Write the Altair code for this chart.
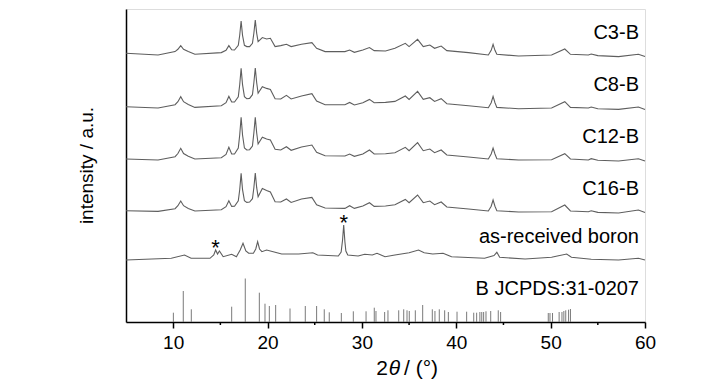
import altair as alt
import pandas as pd

# ---------------- data ----------------
# common 2-theta grid of the four Cn-B samples
GRID = [5.0, 8.4, 10.2, 10.5, 10.8, 11.1, 11.6, 12.3, 15.1, 15.6,
        15.9, 16.2, 16.5, 16.9, 17.05, 17.2, 17.35, 17.55, 17.8, 18.1,
        18.4, 18.55, 18.7, 18.85, 19.0, 19.45, 19.9, 20.3, 20.8, 21.4,
        22.0, 22.5, 23.6, 24.7, 25.2, 26.1, 28.2, 28.7, 29.2, 30.1,
        30.8, 31.3, 32.5, 33.5, 34.6, 35.0, 35.9, 36.5, 37.2, 37.7,
        38.4, 39.0, 41.3, 43.4, 43.7, 43.9, 44.1, 44.3, 46.6, 50.1,
        51.5, 52.1, 54.0, 54.3, 55.0, 57.2, 59.3, 60.0]

C3_B = [0, -1.7, 1.7, 4, 7.7, 4, 1.7, -1, 0.7, 3,
        7.7, 3.5, 3.3, 8, 18, 32.3, 18, 8, 6.7, 6.7,
        10, 20, 33.3, 20, 11.7, 15.7, 14.3, 15, 6.7, 7.7,
        9, 6.7, 9, 10.7, 5, 1.7, 1.7, 3.3, 1, 3.3,
        5.7, 2.7, 2.3, 5, 10, 6.7, 14, 6.7, 8.3, 5,
        7.3, 2.7, 0.7, -1.7, 3, 9, 3, -1, -2.7, -1.7,
        4.3, -1, -1.7, -0.7, -2.3, -3.3, -1, -3.3]

C8_B = [0, -1.3, 2, 5, 10, 5, 2.3, -0.7, 1, 4,
        10.3, 4.7, 4.7, 10, 22, 38.3, 22, 10, 8, 8.3,
        12, 24, 38.7, 24, 13.5, 20, 18.3, 17.3, 8, 7.7,
        11.3, 7.7, 10.7, 13, 5.7, 2, 2, 4.3, 1.7, 4,
        7.3, 4, 4.3, 5.3, 10.7, 7.3, 15.3, 7.3, 9, 5.3,
        8, 3, 1, -1, 4, 10.3, 4, -0.7, -2, -1.3,
        5, -0.7, -1.3, -0.3, -2, -2.7, -0.3, -2.7]

C12_B = [0, -1, 2.3, 5.5, 10.7, 5.5, 2.7, 0, 1.3, 4.5,
         11.7, 5, 5, 11, 24, 41.7, 24, 11, 9, 9.3,
         13, 26, 41.7, 26, 15, 21.7, 20, 19, 9.7, 9,
         12.3, 8.7, 12, 14, 6.7, 3.3, 3, 5, 2.7, 5,
         9, 5, 5.3, 6.3, 11.7, 8.3, 16.3, 8.3, 10, 6.3,
         9, 4, 2, 0, 5, 11, 5, 0.3, -1, -0.7,
         5.3, 0, -1, 0.3, -1.3, -2, 0.3, -2]

C16_B = [0, -0.7, 2, 5, 9.7, 5, 2.3, -0.3, 1, 4,
         10, 4.3, 4.5, 10, 21, 37.3, 21, 10, 8.3, 8.7,
         12, 23, 37.7, 23, 14, 22.3, 20.3, 18.7, 9, 8.7,
         11.7, 8.3, 11.7, 13.3, 6, 2.7, 2.3, 5, 2.3, 4.7,
         8, 4.3, 4.7, 6, 11.3, 8, 15.7, 8, 9.7, 6,
         8.7, 3.7, 1.7, -0.3, 4.5, 10.7, 4.5, 0, -1.3, -1,
         5.7, -0.3, -1, 0, -1.7, -2.3, 0.7, -1.7]

# as-received boron
AR_THETA = [5.0, 9.8, 11.2, 11.9, 13.9, 14.3, 14.5, 14.7, 14.9, 15.3,
            16.2, 16.7, 17.1, 17.4, 17.7, 18.0, 18.5, 18.75, 18.95, 19.15,
            19.4, 19.9, 20.6, 21.5, 23.3, 24.8, 25.3, 27.5, 27.8, 27.95,
            28.07, 28.2, 28.3, 28.5, 29.6, 30.3, 31.1, 31.6, 32.45, 33.5,
            35.0, 36.0, 36.6, 37.5, 38.6, 39.5, 43.0, 44.0, 44.3, 44.6,
            47.3, 50.1, 51.7, 52.2, 54.3, 57.2, 59.3, 60.0]
AR_I = [0, 1.7, 5, 1.7, 1.7, 5, 10, 6, 9, 3.3,
        5.7, 3.3, 10, 16.7, 9, 6.7, 6.7, 11, 18.3, 11,
        8.3, 10, 8.3, 6, 6, 7.3, 5, 4, 8, 20,
        35, 18, 9, 5, 4, 5.7, 5, 6.7, 3.3, 5,
        7.3, 10, 7.3, 6, 6.7, 3.3, 1.7, 4.5, 7.7, 2.7,
        1, 2.7, 6, 2.7, 0.7, 0, 1.7, 0]

# reference pattern B JCPDS:31-0207
STICK_THETA = [10.02, 11.07, 11.92, 16.2, 17.64, 19.13, 19.73, 20.19, 20.86, 22.38,
               24.0, 25.2, 26.01, 26.54, 27.82, 29.09, 30.44, 31.31, 31.49, 32.41,
               32.76, 33.9, 34.43, 34.78, 35.02, 35.66, 36.44, 37.46, 37.74, 38.2,
               38.77, 39.16, 40.08, 41.1, 41.85, 42.16, 42.5, 42.7, 42.9, 43.15,
               43.65, 44.45, 44.7, 49.75, 49.93, 50.2, 50.9, 51.2, 51.4, 51.6,
               51.9, 52.1]
STICK_I = [9.3, 31, 12.7, 15.3, 43.5, 29.3, 18.3, 16, 17, 13.5,
           16, 16, 12.7, 9.7, 9, 10.7, 10.7, 14.3, 11, 10,
           11.7, 11.7, 12.7, 11.7, 11, 11.7, 17, 12.7, 11, 12.7,
           11.7, 10, 10.3, 10.3, 9.3, 9.3, 10, 10, 10, 10.7,
           11, 11.7, 10, 9, 9, 9, 10, 10, 11, 11.7,
           12.3, 13]

SERIES = ["C3-B", "C8-B", "C12-B", "C16-B", "as-received boron"]
OFFSETS = [268.7, 215.3, 163.0, 111.3, 62.0]

LABELS = ["C3-B", "C8-B", "C12-B", "C16-B", "as-received boron", "B JCPDS:31-0207"]
LABEL_Y = [289, 237, 185, 133, 85, 33]

STAR_THETA = [14.5, 28.07]
STAR_Y = [79, 104]

MAJOR_TICKS = [10, 20, 30, 40, 50, 60]
MINOR_TICKS = [15, 25, 35, 45, 55]

# ---------------- tables ----------------
rows = []
for name, vals, off in zip(SERIES[:4], [C3_B, C8_B, C12_B, C16_B], OFFSETS[:4]):
    for t, v in zip(GRID, vals):
        rows.append({"theta": t, "y": off + v, "series": name})
for t, v in zip(AR_THETA, AR_I):
    rows.append({"theta": t, "y": OFFSETS[4] + v, "series": SERIES[4]})
df_lines = pd.DataFrame(rows)

df_sticks = pd.DataFrame({"theta": STICK_THETA, "y": STICK_I, "base": [0] * len(STICK_I)})
df_labels = pd.DataFrame({"x": [60] * len(LABELS), "y": LABEL_Y, "label": LABELS})
df_stars = pd.DataFrame({"theta": STAR_THETA, "y": STAR_Y, "t": ["*", "*"]})
df_minor = pd.DataFrame({"theta": MINOR_TICKS})
df_one = pd.DataFrame({"a": [0]})

FONT = "Liberation Sans, Arial, sans-serif"
W, H = 519, 313

xs = alt.Scale(domain=[5, 60], nice=False, zero=False)
ys = alt.Scale(domain=[0, 313], nice=False, zero=False)

x_axis = alt.Axis(values=MAJOR_TICKS, tickSize=6, tickWidth=1.5, tickColor="black",
                  domainColor="black", domainWidth=1.5, labelFont=FONT, labelFontSize=19,
                  labelColor="black", labelPadding=5, grid=False, title=None,
                  labelFlush=False)
y_axis = alt.Axis(labels=False, ticks=False, grid=False, title=None,
                  domainColor="black", domainWidth=1.5)

lines = alt.Chart(df_lines).mark_line(color="#5e5e5e", strokeWidth=1.1).encode(
    x=alt.X("theta:Q", scale=xs, axis=x_axis),
    y=alt.Y("y:Q", scale=ys, axis=y_axis),
    detail="series:N",
)

sticks = alt.Chart(df_sticks).mark_rule(color="#7a7a7a", strokeWidth=1).encode(
    x=alt.X("theta:Q", scale=xs),
    y=alt.Y("y:Q", scale=ys),
    y2="base:Q",
)

minor = alt.Chart(df_minor).mark_rule(color="black", strokeWidth=1.5).encode(
    x=alt.X("theta:Q", scale=xs),
    y=alt.value(H),
    y2=alt.value(H + 3),
)

labels = alt.Chart(df_labels).mark_text(
    align="right", baseline="middle", dx=-6, font=FONT, fontSize=20, color="black"
).encode(x=alt.X("x:Q", scale=xs), y=alt.Y("y:Q", scale=ys), text="label:N")

stars = alt.Chart(df_stars).mark_text(
    align="center", baseline="middle", dy=5, font=FONT, fontSize=22, color="black"
).encode(x=alt.X("theta:Q", scale=xs), y=alt.Y("y:Q", scale=ys), text="t:N")

ytitle = alt.Chart(df_one).mark_text(
    angle=270, align="center", baseline="middle", font=FONT, fontSize=19, color="black"
).encode(x=alt.value(-39), y=alt.value(H / 2), text=alt.value("intensity / a.u."))

xt_2 = alt.Chart(df_one).mark_text(
    align="center", baseline="middle", font=FONT, fontSize=21, color="black"
).encode(x=alt.value(256), y=alt.value(360), text=alt.value("2"))
xt_theta = alt.Chart(df_one).mark_text(
    align="center", baseline="middle", font=FONT, fontSize=21, fontStyle="italic", color="black"
).encode(x=alt.value(268.5), y=alt.value(360), text=alt.value("θ"))
xt_rest = alt.Chart(df_one).mark_text(
    align="left", baseline="middle", font=FONT, fontSize=21, color="black"
).encode(x=alt.value(278), y=alt.value(360), text=alt.value("/ (°)"))

chart = alt.layer(
    sticks, lines, minor, labels, stars, ytitle, xt_2, xt_theta, xt_rest
).properties(
    width=W, height=H,
    autosize=alt.AutoSizeParams(type="none"),
    padding={"left": 118, "top": 1, "right": 75, "bottom": 60},
).configure_view(
    stroke="black", strokeWidth=1.5
).configure(background="white")

chart.save("out.html", embed_options={"renderer": "svg", "actions": False})
